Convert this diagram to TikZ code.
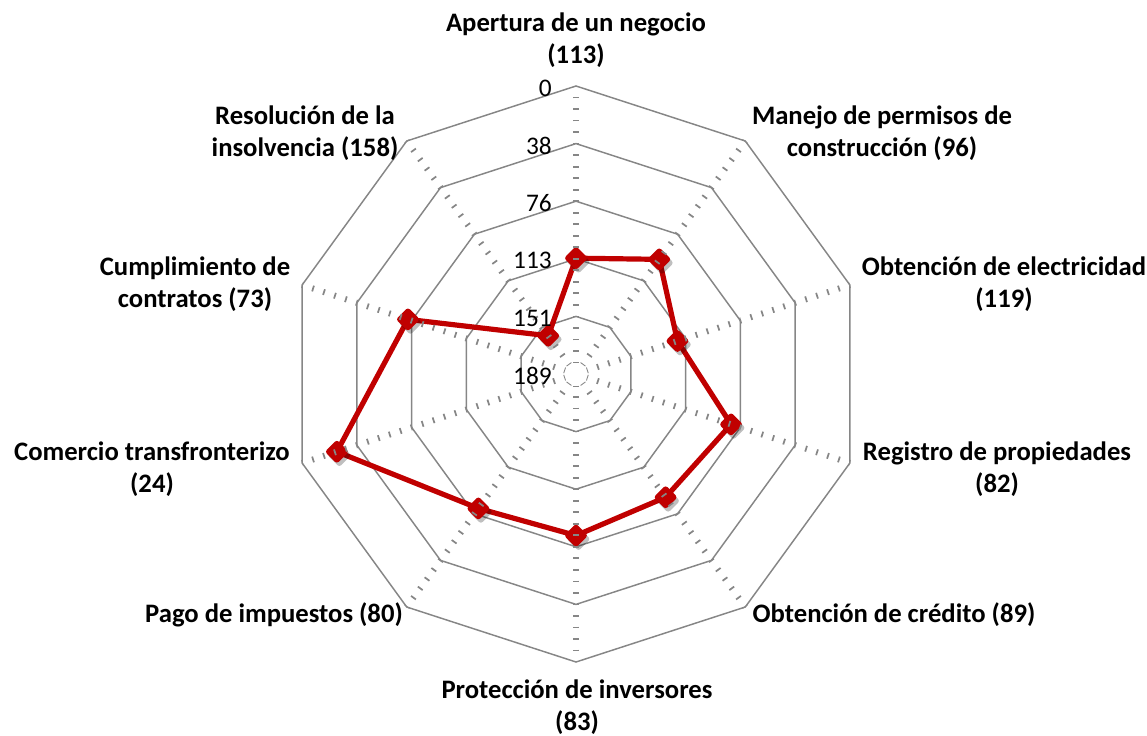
\documentclass[tikz,border=0pt]{standalone}
\usepackage{fontspec}
\setmainfont{Carlito}
\usetikzlibrary{shapes.geometric}
\definecolor{gridgray}{HTML}{868686}
\definecolor{datared}{HTML}{C00000}
\begin{document}
\begin{tikzpicture}[x=0.75pt,y=-0.75pt,
  ring/.style={draw=gridgray,line width=1.1pt,line join=miter},
  axisline/.style={draw=gridgray,line width=4.5pt,dash pattern=on 1.3pt off 7.34pt,dash phase=0.65pt},
  dataline/.style={draw=datared,line width=3.9pt,line join=round},
  marker/.style={shape=diamond,draw=datared,fill=datared,line width=1.5pt,rounded corners=1.5pt,inner sep=0pt,minimum width=16.5pt,minimum height=16.5pt},
  shadowmark/.style={shape=diamond,fill=black,opacity=0.25,rounded corners=2pt,inner sep=0pt,minimum width=18pt,minimum height=18pt},
  ticklabel/.style={font=\fontsize{19}{23}\selectfont,text=black,inner sep=0pt,anchor=east},
  catlabel/.style={font=\fontsize{20}{24.4}\selectfont\bfseries,text=black,align=center,inner sep=0pt}
]
\useasboundingbox (0,0) rectangle (1147,736);
\coordinate (O) at (576,374);
% rings
\foreach \k in {1,...,5}{
  \pgfmathsetmacro\rad{57.6*\k}
  \draw[ring] ({576+\rad*cos(90)},{374-\rad*sin(90)})
    \foreach \j in {1,...,9}{ -- ({576+\rad*cos(90-36*\j)},{374-\rad*sin(90-36*\j)}) } -- cycle;
}
% data points
\foreach \v [count=\i from 0] in {113,96,119,82,89,83,80,24,73,158}{
  \pgfmathsetmacro\rad{288*(1-\v/189)}
  \coordinate (p\i) at ({576+\rad*cos(90-36*\i)},{374-\rad*sin(90-36*\i)});
}
\draw[dataline] (p0) -- (p1) -- (p2) -- (p3) -- (p4) -- (p5) -- (p6) -- (p7) -- (p8) -- (p9) -- cycle;
\foreach \i in {0,...,9}{
  \node[shadowmark] (s\i) at ([shift={(2.5,3.5)}]p\i) {};
}
\foreach \i in {0,...,9}{
  \node[marker] (m\i) at (p\i) {};
}
% axes with tick marks
\foreach \j in {0,...,9}{
  \coordinate (a\j) at ({576+11.52*cos(90-36*\j)},{374-11.52*sin(90-36*\j)});
  \coordinate (v\j) at ({576+288*cos(90-36*\j)},{374-288*sin(90-36*\j)});
  \draw[axisline] (a\j) -- (v\j);
}
% tick labels
\node[ticklabel] (t0) at (552,88) {0};
\node[ticklabel] (t1) at (552,145.6) {38};
\node[ticklabel] (t2) at (552,203.2) {76};
\node[ticklabel] (t3) at (552,260.8) {113};
\node[ticklabel] (t4) at (552,318.4) {151};
\node[ticklabel] (t5) at (552,376) {189};
% category labels
\node[catlabel] (c0) at (576,40) {Apertura de un negocio\\(113)};
\node[catlabel] (c1) at (882,133) {Manejo de permisos de\\construcción (96)};
\node[catlabel] (c2) at (1004,284) {Obtención de electricidad\\(119)};
\node[catlabel] (c3) at (997,469) {Registro de propiedades\\(82)};
\node[catlabel] (c4) at (894,615) {Obtención de crédito (89)};
\node[catlabel] (c5) at (577,707) {Protección de inversores\\(83)};
\node[catlabel] (c6) at (274,615) {Pago de impuestos (80)};
\node[catlabel] (c7) at (152,469) {Comercio transfronterizo\\(24)};
\node[catlabel] (c8) at (195,284) {Cumplimiento de\\contratos (73)};
\node[catlabel] (c9) at (305,133) {Resolución de la\\insolvencia (158)};
\end{tikzpicture}
\end{document}
